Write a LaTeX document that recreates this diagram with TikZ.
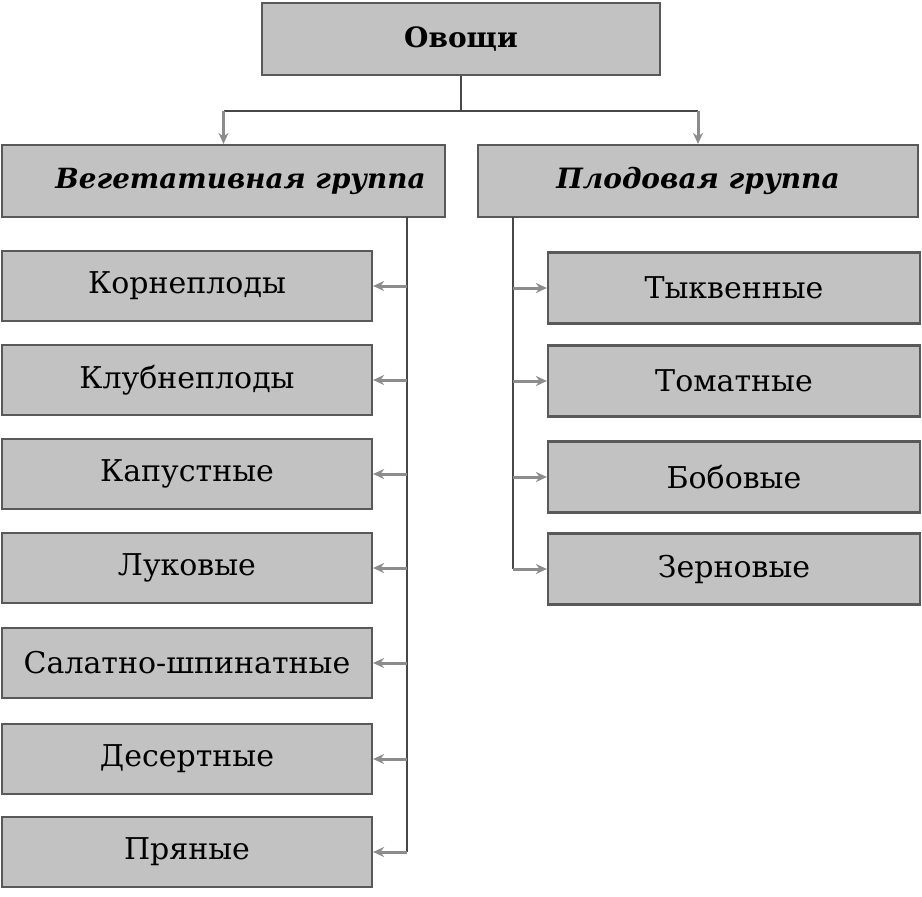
\documentclass[tikz,border=0pt]{standalone}
\usepackage{fontspec}
\setmainfont{DejaVu Serif}
\usetikzlibrary{arrows.meta}
\begin{document}
\begin{tikzpicture}[x=1pt,y=-1pt,
  box/.style={draw=black!65, line width=2.2pt, fill=black!24, rectangle, inner sep=0pt},
  lbox/.style={box, minimum width=370pt, minimum height=70pt, font=\fontsize{30}{32}\selectfont},
  rbox/.style={box, minimum width=372pt, minimum height=71pt, font=\fontsize{30}{32}\selectfont},
  trunk/.style={draw=black!72, line width=2.4pt},
  arr/.style={draw=black!45, line width=3pt, -{Stealth[length=11pt,width=10pt]}}]
\useasboundingbox (0,0) rectangle (922,897);
\node[box, minimum width=398pt, minimum height=72pt, font=\fontsize{28}{30}\selectfont\bfseries] (top) at (461,39) {Овощи};
\node[box, minimum width=443pt, minimum height=72pt, font=\fontsize{27.8}{30}\selectfont\bfseries\itshape] (veg) at (223.5,181) {\hspace*{34pt}Вегетативная группа};
\node[box, minimum width=440pt, minimum height=72pt, font=\fontsize{28}{30}\selectfont\bfseries\itshape] (plod) at (698,181) {Плодовая группа};
\node[lbox] (l1) at (187,286) {Корнеплоды};
\node[lbox] (l2) at (187,380) {Клубнеплоды};
\node[lbox] (l3) at (187,474) {Капустные};
\node[lbox] (l4) at (187,568) {Луковые};
\node[lbox] (l5) at (187,663) {Салатно-шпинатные};
\node[lbox] (l6) at (187,759) {Десертные};
\node[lbox] (l7) at (187,852) {Пряные};
\node[rbox] (r1) at (734,288) {Тыквенные};
\node[rbox] (r2) at (734,381) {Томатные};
\node[rbox] (r3) at (734,477) {Бобовые};
\node[rbox] (r4) at (734,569) {Зерновые};
% top split
\coordinate (split) at (461,111);
\draw[trunk] (top.south) -- (split);
\draw[trunk] (split) -- (veg.north |- split) (split) -- (plod.north |- split);
\draw[arr] (veg.north |- split) -- (veg.north);
\draw[arr] (plod.north |- split) -- (plod.north);
% left trunk
\coordinate (lt) at (407,217);
\draw[trunk] (lt) -- (407,852);
\foreach \n in {l1,l2,l3,l4,l5,l6,l7}{
  \draw[arr] (lt |- \n.east) -- (\n.east);
}
% right trunk
\coordinate (rt) at (513,217);
\draw[trunk] (rt) -- (513,569);
\foreach \n in {r1,r2,r3,r4}{
  \draw[arr] (rt |- \n.west) -- (\n.west);
}
\end{tikzpicture}
\end{document}
